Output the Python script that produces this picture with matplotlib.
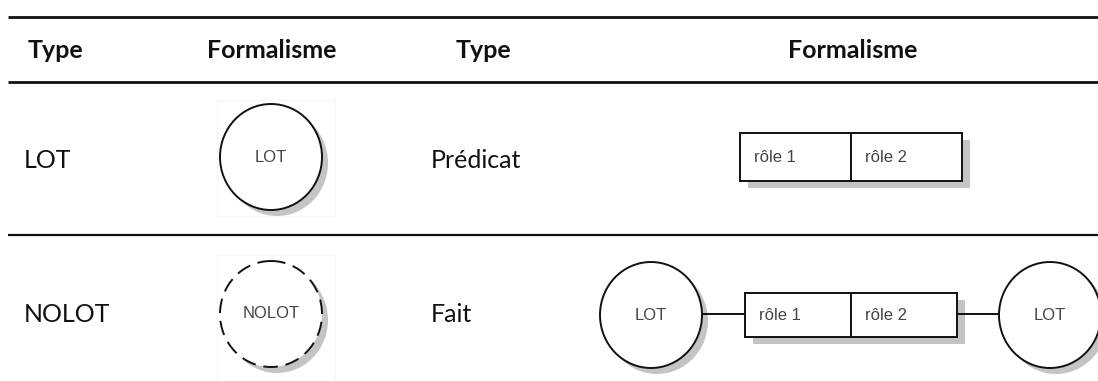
import matplotlib.pyplot as plt
from matplotlib.patches import Ellipse, Rectangle

# table content
HEADERS = ['Type', 'Formalisme', 'Type', 'Formalisme']
LEFT_TYPES = ['LOT', 'NOLOT']
RIGHT_TYPES = ['Prédicat', 'Fait']
CIRCLE_LABELS = ['LOT', 'NOLOT']
ROLES = ['rôle 1', 'rôle 2']
FACT_ENDS = ['LOT', 'LOT']

W, H = 1098, 381
SHADOW = '#c4c4c4'
INK = '#111111'
SMALL = '#444444'
TEXT_FONT = 'Lato'
DIAG_FONT = 'Liberation Sans'

fig = plt.figure(figsize=(W / 100, H / 100), dpi=100)
ax = fig.add_axes([0, 0, 1, 1])
ax.set_xlim(0, W)
ax.set_ylim(H, 0)
ax.axis('off')

CW, CH = 102, 106  # circle size in px


def circle(cx, cy, label, dashed=False):
    ax.add_patch(Ellipse((cx + 6, cy + 6), CW, CH, color=SHADOW, lw=0, zorder=1))
    ax.add_patch(Ellipse((cx, cy), CW, CH, facecolor='white', edgecolor=INK,
                         lw=1.4, ls=(0, (7.5, 4)) if dashed else '-', zorder=2))
    ax.text(cx, cy, label, ha='center', va='center', fontsize=12,
            family=DIAG_FONT, color=SMALL, zorder=3)


def roles_box(x0, y0, w, h):
    ax.add_patch(Rectangle((x0 + 8, y0 + 7), w, h, color=SHADOW, lw=0, zorder=1))
    half = w / 2
    for i, r in enumerate(ROLES):
        ax.add_patch(Rectangle((x0 + i * half, y0), half, h, facecolor='white',
                               edgecolor=INK, lw=1.4, zorder=2))
        ax.text(x0 + i * half + 14, y0 + h / 2, r, ha='left', va='center',
                fontsize=12, family=DIAG_FONT, color=SMALL, zorder=3)


# rules
for y, lw in [(17, 2.0), (82, 2.0), (235, 1.6)]:
    ax.plot([8, W], [y, y], color=INK, lw=lw, solid_capstyle='butt')

# header
head_pos = [(28, 'left'), (272, 'center'), (456, 'left'), (853, 'center')]
for (x, ha), t in zip(head_pos, HEADERS):
    ax.text(x, 50, t, ha=ha, va='center', fontsize=18, weight='bold',
            family=TEXT_FONT, color=INK)

# rows
row_y = [160, 315]
for y, lt, rt in zip(row_y, LEFT_TYPES, RIGHT_TYPES):
    ax.text(24, y, lt, ha='left', va='center', fontsize=18, family=TEXT_FONT, color=INK)
    ax.text(431, y, rt, ha='left', va='center', fontsize=18, family=TEXT_FONT, color=INK)

# faint image frames around the column-2 pictures
for y0, h in [(100, 116), (255, 126)]:
    ax.add_patch(Rectangle((217, y0), 118, h, facecolor='none',
                           edgecolor='#f6f6f6', lw=0.8, zorder=0.5))

circle(271, 157, CIRCLE_LABELS[0])
circle(271, 314, CIRCLE_LABELS[1], dashed=True)

# predicate
roles_box(740, 133, 222, 48)

# fact
ax.plot([702, 745], [314, 314], color=INK, lw=1.4, zorder=1.5)
ax.plot([957, 1000], [314, 314], color=INK, lw=1.4, zorder=1.5)
roles_box(745, 293, 212, 44)
circle(651, 315, FACT_ENDS[0])
circle(1050, 315, FACT_ENDS[1])

fig.savefig('out.png', dpi=100, facecolor='white')
